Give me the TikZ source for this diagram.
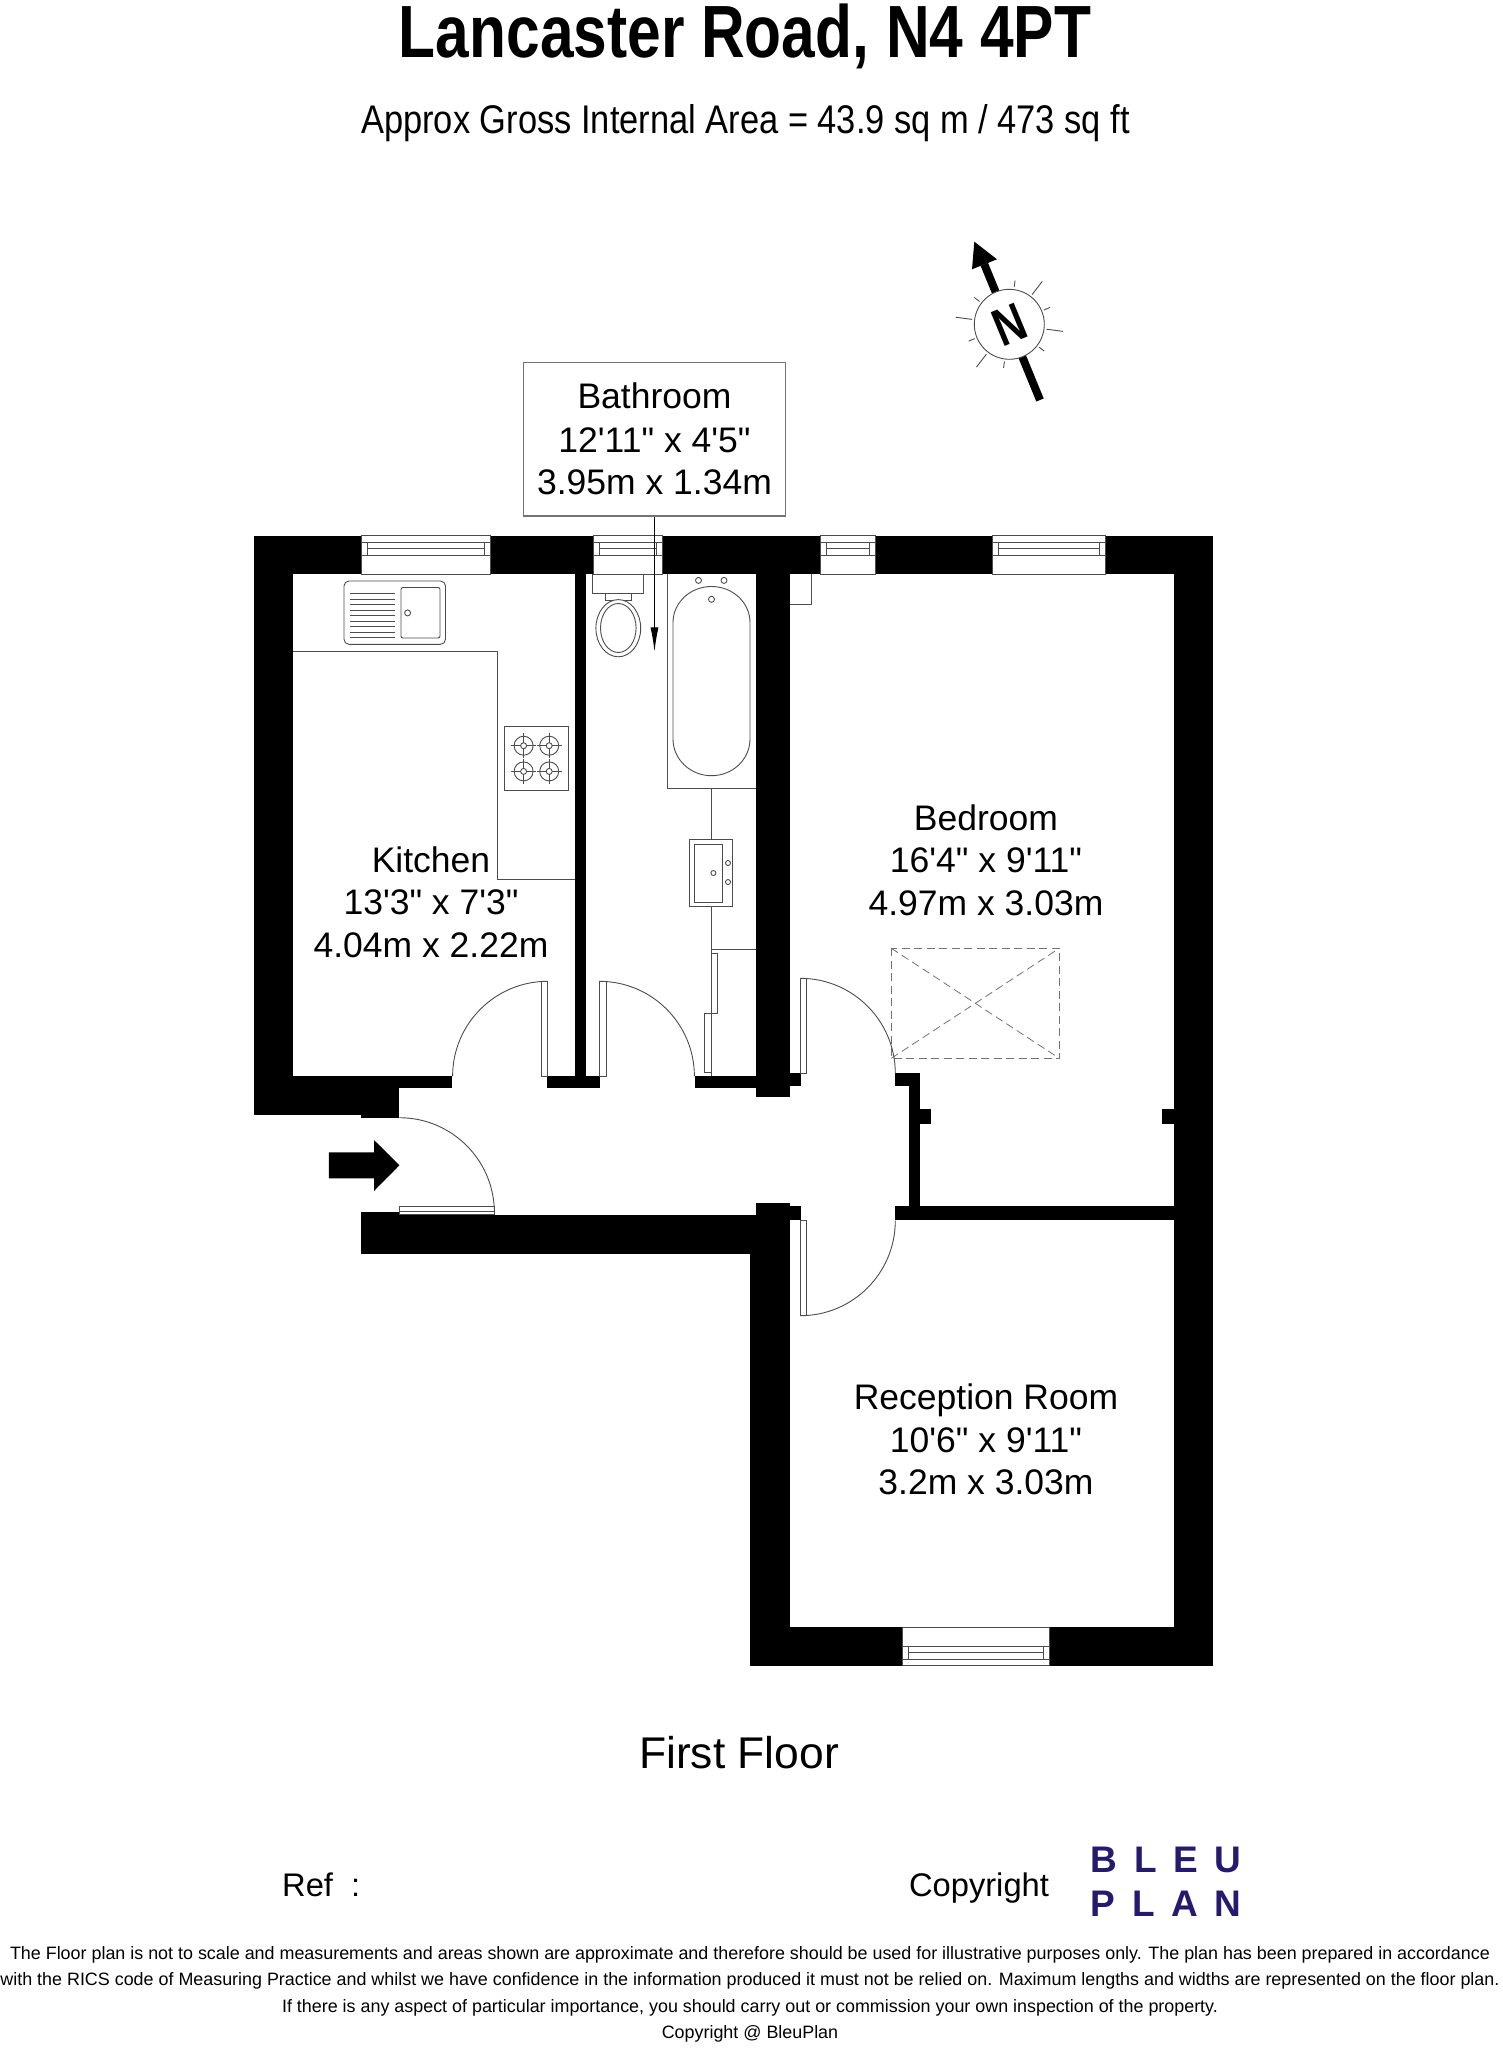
\documentclass[tikz,border=0pt]{standalone}
\usepackage{fontspec}
\setmainfont{Liberation Sans}
\newfontfamily\plainfont{Liberation Sans}
\usetikzlibrary{arrows.meta}
\definecolor{bleublue}{HTML}{261A6E}
\tikzset{
  wall/.style={fill=black},
  fixture/.style={draw=black!70,line width=0.9pt},
  skylight/.style={draw=black!55,line width=0.8pt,dash pattern=on 8pt off 4.5pt},
  roomlabel/.style={align=center,inner sep=0pt,font=\plainfont\fontsize{35.5}{42.5}\selectfont},
  footnote/.style={anchor=base,inner sep=0pt,font=\fontsize{17.9}{22}\selectfont}
}
\begin{document}
\begin{tikzpicture}[x=1pt,y=-1pt]
  \useasboundingbox (0,0) rectangle (1502,2048);
  % headings
  \node[anchor=base,inner sep=0pt,xscale=.817,font=\fontsize{74}{80}\bfseries\selectfont] (title) at (745,57.3) {Lancaster Road, N4 4PT};
  \node[anchor=base,inner sep=0pt,xscale=.861,font=\fontsize{40}{50}\selectfont] (area) at (745.5,133.3) {Approx Gross Internal Area = 43.9 sq m / 473 sq ft};
  % walls
  \foreach \xa/\ya/\xb/\yb in {
    254/535.7/293/1115, 254/535.7/361/574.3, 490/535.7/593/574.3,
    662/535.7/820.3/574.3, 875/535.7/992/574.3, 1105.3/535.7/1213.3/574.3,
    575/574.3/586.4/1088.3, 755.6/574.3/789.6/1097, 789.6/1073.3/800.7/1085.7,
    293/1076.3/452/1088.3, 254/1088/399.4/1115, 361/1115/399.4/1117.7,
    546.7/1076.3/599.8/1088.3, 694.5/1076.3/755.6/1088.3,
    1174.3/535.7/1213.3/1665.7, 750.3/1627/902.3/1665.7, 1049.3/1627/1213.3/1665.7,
    750.3/1254/789.6/1665.7, 361/1214.7/789.6/1254, 361/1212.3/399.4/1214.7,
    755.6/1203.3/789.6/1254, 789.6/1206.3/800.7/1220.3,
    895.4/1073.3/920.3/1085.7, 909.2/1073.3/920.3/1220.3, 920.3/1109.3/930.7/1124,
    895.4/1206.3/1174.3/1220.3, 1162/1109.3/1174.3/1124}
    \fill[wall] (\xa,\ya) rectangle (\xb,\yb);
  % windows
  \foreach \xa/\xb in {361/490,593/662,820.3/875,992/1105.3} {
    \draw[fixture] (\xa,535.7) rectangle (\xb,574.3);
    \draw[fixture] (\xa,542) rectangle (\xb,555);
    \draw[fixture] (\xa+6,542) rectangle (\xb-6,548.6);
    \draw[fixture] (\xa+6,548.6) -- (\xa+6,555) (\xb-6,548.6) -- (\xb-6,555);
  }
  \draw[fixture] (902.3,1627) rectangle (1049.3,1665.7);
  \draw[fixture] (902.3,1646.3) rectangle (1049.3,1659);
  \draw[fixture] (908.7,1646.3) rectangle (1043.3,1659);
  \draw[fixture] (908.7,1652.7) -- (1043.3,1652.7);
  % kitchen
  \draw[fixture] (293,651.4) -- (497.6,651.4) -- (497.6,879) -- (575,879);
  \draw[fixture,rounded corners=5pt] (344,581) rectangle (445.5,644.3);
  \draw[fixture,rounded corners=2pt] (401,587.5) rectangle (440,638);
  \draw[fixture] (407.6,612.9) circle[radius=3pt];
  \foreach \i in {0,...,8}
    \draw[fixture] (350,593.6+5.5*\i) -- (395,593.6+5.5*\i);
  \draw[fixture] (504.5,726.4) rectangle (568.7,790.4);
  \foreach \bx/\by in {523.6/745.7,549.2/745.7,523.6/771.4,549.2/771.4} {
    \draw[fixture] (\bx,\by) circle[radius=9.5pt];
    \draw[fixture] (\bx,\by) circle[radius=3pt];
    \draw[fixture] (\bx-12.5,\by) -- (\bx-3,\by) (\bx+3,\by) -- (\bx+12.5,\by);
    \draw[fixture] (\bx,\by-12.5) -- (\bx,\by-3) (\bx,\by+3) -- (\bx,\by+12.5);
  }
  % bathroom
  \draw[fixture] (592.5,574.3) rectangle (643.7,593.2);
  \draw[fixture] (605.5,593.2) rectangle (631,600.7);
  \draw[fixture,fill=white] (618.3,628.2) circle[x radius=22.4pt,y radius=28.6pt];
  \draw[fixture] (618.3,628) circle[x radius=17.8pt,y radius=24.5pt];
  \draw[fixture] (667,574.3) -- (667,788) -- (755.6,788);
  \draw[fixture] (673,622.5) arc[start angle=180,end angle=0,x radius=38.5pt,y radius=36pt]
    -- (750,739) arc[start angle=0,end angle=-180,x radius=38.5pt,y radius=36.7pt] -- cycle;
  \foreach \tx/\ty in {698.5/580.4,724/580.4,711.5/599.3}
    \draw[fixture] (\tx,\ty) circle[radius=3pt];
  \draw[fixture] (711,788) -- (711,839.3) (711,906.3) -- (711,1076.3);
  \draw[fixture] (689,839.3) rectangle (732.4,906.3);
  \draw[fixture] (694.5,844) rectangle (722.6,902);
  \foreach \tx/\ty in {728/863,728/882,713.4/873}
    \draw[fixture] (\tx,\ty) circle[radius=2.5pt];
  \draw[fixture] (711,949.3) -- (755.6,949.3);
  \draw[fixture] (711,953.7) rectangle (717.2,1013.3);
  \draw[fixture] (704.3,1013.3) rectangle (711,1072.3);
  % bedroom
  \draw[fixture] (789.6,604.3) -- (811.3,604.3) -- (811.3,574.3);
  \draw[skylight] (891.3,948.3) rectangle (1059.3,1058.3);
  \draw[skylight] (891.3,948.3) -- (1059.3,1058.3);
  \draw[skylight] (891.3,1058.3) -- (1059.3,948.3);
  % doors
  \draw[fixture] (541,981.3) rectangle (547.6,1076.3);
  \draw[fixture] (547.6,981.3) arc[start angle=90,end angle=180,radius=95pt];
  \draw[fixture] (599.4,981.3) rectangle (606,1076.3);
  \draw[fixture] (599.4,981.3) arc[start angle=90,end angle=0,radius=95pt];
  \draw[fixture] (800.3,978.3) rectangle (806.5,1073.7);
  \draw[fixture] (800.3,978.3) arc[start angle=90,end angle=0,radius=95pt];
  \draw[fixture] (800.3,1220.3) rectangle (806.5,1315.7);
  \draw[fixture] (800.3,1315.7) arc[start angle=-90,end angle=0,radius=95pt];
  \draw[fixture] (399.4,1206.3) rectangle (494.5,1214);
  \draw[fixture] (399.4,1211) -- (494.5,1211);
  \draw[fixture] (399.4,1117.7) arc[start angle=90,end angle=0,radius=95pt];
  % way in
  \fill[wall] (328.8,1152.3) -- (374,1152.3) -- (374,1140) -- (399.4,1165.3)
    -- (374,1191) -- (374,1178.3) -- (328.8,1178.3) -- cycle;
  % north point
  \draw[line width=8pt] (984.3,264.3) -- (1040,400);
  \fill (974.3,241.7) -- (997,259.3) -- (972,269.3) -- cycle;
  \node[circle,draw=black!70,fill=white,line width=0.9pt,minimum size=70pt,inner sep=0pt] (compass) at (1009.3,324.3) {};
  \node[rotate=22.5,xscale=.8,inner sep=0pt,font=\fontsize{53}{60}\bfseries\selectfont] (north) at (compass) {N};
  \begin{scope}[shift={(1009.3,324.3)}]
    \foreach \a in {22.5,82.5,142.5,202.5,262.5,322.5}
      \draw[fixture] (\a:37.5pt) -- (\a:44pt);
    \foreach \a in {-7.5,52.5,172.5,232.5}
      \draw[fixture] (\a:37.5pt) -- (\a:54pt);
  \end{scope}
  % room labels
  \node[roomlabel,draw=black!55,line width=1.2pt,minimum width=261.7pt,minimum height=153.5pt] (bathroom) at (654.5,439.2)
    {\raisebox{1pt}{Bathroom}\\12'11" x 4'5"\\3.95m x 1.34m};
  \coordinate (bathend) at (654.5,651.4);
  \draw[draw=black,line width=0.9pt,-{Latex[length=24pt,width=8pt]}] (bathroom.south) -- (bathend);
  \node[roomlabel] (kitchen) at (431,902) {Kitchen\\13'3" x 7'3"\\4.04m x 2.22m};
  \node[roomlabel] (bedroom) at (986,860) {Bedroom\\16'4" x 9'11"\\4.97m x 3.03m};
  \node[roomlabel] (reception) at (986,1439.5) {Reception Room\\10'6" x 9'11"\\3.2m x 3.03m};
  \node[inner sep=0pt,font=\fontsize{44.4}{50}\selectfont] (floor) at (739,1753) {First Floor};
  % footer
  \node[anchor=base west,inner sep=0pt,font=\fontsize{32.7}{38}\selectfont] (ref) at (282,1896) {Ref\ \ :};
  \node[anchor=base,inner sep=0pt,font=\fontsize{32.7}{38}\selectfont] (copyright) at (979,1896) {Copyright};
  \node[anchor=base west,inner sep=0pt,text=bleublue,font=\fontsize{37}{40}\bfseries\selectfont\addfontfeature{LetterSpace=45}] (bleu) at (1090.5,1872.7) {BLEU};
  \node[anchor=base west,inner sep=0pt,text=bleublue,font=\fontsize{37}{40}\bfseries\selectfont\addfontfeature{LetterSpace=45}] (plan) at (1090.5,1916.7) {PLAN};
  \node[footnote] (noteone) at (750,1959.3) {The Floor plan is not to scale and measurements and areas shown are approximate and therefore should be used for illustrative purposes only. The plan has been prepared in accordance};
  \node[footnote] (notetwo) at (750,1985.8) {with the RICS code of Measuring Practice and whilst we have confidence in the information produced it must not be relied on. Maximum lengths and widths are represented on the floor plan.};
  \node[footnote] (notethree) at (750,2012.3) {If there is any aspect of particular importance, you should carry out or commission your own inspection of the property.};
  \node[footnote] (notefour) at (750,2038.8) {Copyright @ BleuPlan};
\end{tikzpicture}
\end{document}
